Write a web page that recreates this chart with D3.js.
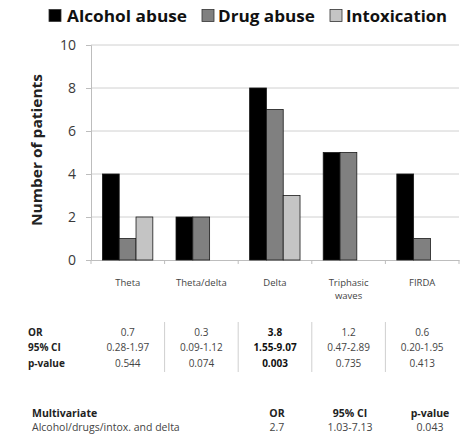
<!DOCTYPE html>
<html>
<head>
<meta charset="utf-8">
<script src="https://cdn.jsdelivr.net/npm/d3@7"></script>
<style>
  html, body { margin: 0; padding: 0; background: #fff; }
  svg { display: block; font-family: "Open Sans", Lato, sans-serif; }
</style>
</head>
<body>
<svg id="chart" width="466" height="437"></svg>
<script>
// EEG pattern categories and patient counts per group
const categories = ["Theta", "Theta/delta", "Delta", "Triphasic waves", "FIRDA"];
const categoryLines = [["Theta"], ["Theta/delta"], ["Delta"], ["Triphasic", "waves"], ["FIRDA"]];
const seriesNames = ["Alcohol abuse", "Drug abuse", "Intoxication"];
const alcohol = [4, 2, 8, 5, 4];
const drugs = [1, 2, 7, 5, 1];
const intox = [2, 0, 3, 0, 0];
const yTicks = [0, 2, 4, 6, 8, 10];

// Univariate statistics per category
const orValues = ["0.7", "0.3", "3.8", "1.2", "0.6"];
const ciValues = ["0.28-1.97", "0.09-1.12", "1.55-9.07", "0.47-2.89", "0.20-1.95"];
const pValues = ["0.544", "0.074", "0.003", "0.735", "0.413"];
const significant = [false, false, true, false, false];

// Multivariate result
const multiHeader = ["Multivariate", "OR", "95% CI", "p-value"];
const multiRow = ["Alcohol/drugs/intox. and delta", "2.7", "1.03-7.13", "0.043"];

const colors = ["#000000", "#808080", "#c4c4c4"];
const seriesData = [alcohol, drugs, intox];

const svg = d3.select("#chart");
const plot = { left: 91, right: 459, top: 45, bottom: 260 };

const x0 = d3.scaleBand().domain(categories).range([plot.left, plot.right]).padding(0);
const x1 = d3.scaleBand().domain(seriesNames)
  .range([x0.bandwidth() * 0.155, x0.bandwidth() * 0.84]).padding(0);
const y = d3.scaleLinear().domain([0, 10]).range([plot.bottom, plot.top]);

// Horizontal gridlines
svg.append("g")
  .selectAll("line")
  .data(yTicks.filter(d => d > 0))
  .join("line")
  .attr("x1", plot.left).attr("x2", plot.right)
  .attr("y1", d => y(d)).attr("y2", d => y(d))
  .attr("stroke", "#d0d0d0").attr("stroke-width", 1);

// Y axis
const yAxis = svg.append("g")
  .attr("transform", `translate(${plot.left},0)`)
  .call(d3.axisLeft(y).tickValues(yTicks).tickSize(5).tickPadding(10).tickFormat(d3.format("d")));
yAxis.select(".domain").attr("stroke", "#bdbdbd");
yAxis.selectAll(".tick line").attr("stroke", "#bdbdbd");
yAxis.selectAll(".tick text")
  .attr("font-size", 14).attr("fill", "#3a3a3a")
  .attr("font-family", "'Open Sans', sans-serif");

// X axis
const xAxis = svg.append("g")
  .attr("transform", `translate(0,${plot.bottom})`)
  .call(d3.axisBottom(x0).tickSize(0).tickFormat(""));
xAxis.select(".domain").attr("stroke", "#bdbdbd");
const bounds = categories.map(c => x0(c)).concat([plot.right]);
xAxis.append("g").selectAll("line")
  .data(bounds)
  .join("line")
  .attr("x1", d => d).attr("x2", d => d)
  .attr("y1", 0).attr("y2", 4)
  .attr("stroke", "#bdbdbd");

// Bars
const groups = svg.append("g")
  .selectAll("g")
  .data(categories)
  .join("g")
  .attr("transform", c => `translate(${x0(c)},0)`);
groups.selectAll("rect")
  .data((c, i) => seriesNames.map((s, j) => ({ s, j, v: seriesData[j][i] })).filter(d => d.v > 0))
  .join("rect")
  .attr("x", d => x1(d.s))
  .attr("width", x1.bandwidth())
  .attr("y", d => y(d.v))
  .attr("height", d => y(0) - y(d.v))
  .attr("fill", d => colors[d.j])
  .attr("stroke", "#1a1a1a")
  .attr("stroke-width", 0.8);

// Category labels
const catLabels = svg.append("g")
  .selectAll("text")
  .data(categories)
  .join("text")
  .attr("x", c => x0(c) + x0.bandwidth() / 2)
  .attr("y", 286)
  .attr("text-anchor", "middle")
  .attr("font-size", 9.5)
  .attr("fill", "#444");
catLabels.selectAll("tspan")
  .data((c, i) => categoryLines[i])
  .join("tspan")
  .attr("x", function () { return d3.select(this.parentNode).attr("x"); })
  .attr("dy", (d, k) => k === 0 ? 0 : 13)
  .text(d => d);

// Y axis title
svg.append("text")
  .attr("transform", "translate(42,150) rotate(-90)")
  .attr("text-anchor", "middle")
  .attr("font-size", 14)
  .attr("font-weight", "bold")
  .attr("fill", "#222")
  .attr("textLength", 152).attr("lengthAdjust", "spacingAndGlyphs")
  .text("Number of patients");

// Legend
const legendItems = [
  { name: seriesNames[0], sx: 49, tx: 67, w: 120 },
  { name: seriesNames[1], sx: 202, tx: 218, w: 97 },
  { name: seriesNames[2], sx: 330, tx: 346, w: 101 }
];
const legend = svg.append("g");
legendItems.forEach((d, j) => {
  legend.append("rect")
    .attr("x", d.sx).attr("y", 9.5).attr("width", 12).attr("height", 12)
    .attr("fill", colors[j]).attr("stroke", "#333").attr("stroke-width", 0.8);
  legend.append("text")
    .attr("x", d.tx).attr("y", 22)
    .attr("font-size", 16.5).attr("font-weight", "bold").attr("fill", "#111")
    .attr("textLength", d.w).attr("lengthAdjust", "spacingAndGlyphs")
    .text(d.name);
});

// Univariate statistics table
const table = svg.append("g").attr("font-size", 10).attr("fill", "#333");
const rowY = [336, 351, 367];
["OR", "95% CI", "p-value"].forEach((lab, r) => {
  table.append("text").attr("x", 28).attr("y", rowY[r])
    .attr("font-weight", "bold").attr("fill", "#222").text(lab);
});
[orValues, ciValues, pValues].forEach((vals, r) => {
  table.append("g").selectAll("text")
    .data(vals)
    .join("text")
    .attr("x", (v, i) => x0(categories[i]) + x0.bandwidth() / 2)
    .attr("y", rowY[r])
    .attr("text-anchor", "middle")
    .attr("font-weight", (v, i) => significant[i] ? "bold" : "normal")
    .attr("fill", (v, i) => significant[i] ? "#111" : "#444")
    .text(v => v);
});
table.append("g").selectAll("line")
  .data(categories.slice(1))
  .join("line")
  .attr("x1", c => x0(c)).attr("x2", c => x0(c))
  .attr("y1", 322).attr("y2", 372)
  .attr("stroke", "#cfcfcf");

// Multivariate table
const multiX = [32, 277, 350, 430];
const multi = svg.append("g").attr("font-size", 10.5);
multiHeader.forEach((t, k) => {
  multi.append("text")
    .attr("x", multiX[k]).attr("y", 417)
    .attr("text-anchor", k === 0 ? "start" : "middle")
    .attr("font-weight", "bold").attr("fill", "#222").text(t);
});
multiRow.forEach((t, k) => {
  multi.append("text")
    .attr("x", multiX[k]).attr("y", 431)
    .attr("text-anchor", k === 0 ? "start" : "middle")
    .attr("fill", "#444").text(t);
});
</script>
</body>
</html>
